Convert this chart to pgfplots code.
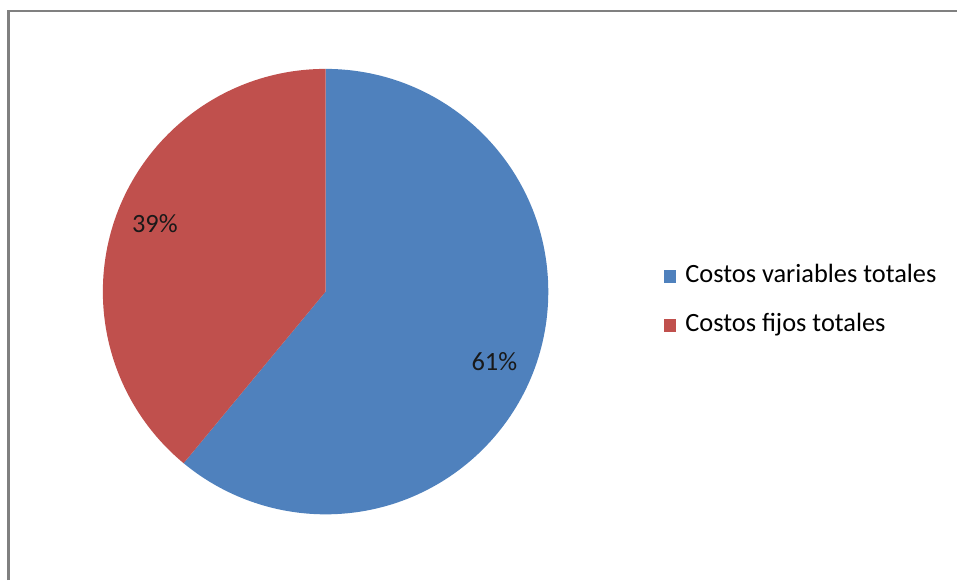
\documentclass[border=0pt]{standalone}
\usepackage{pgfplots}
\usepackage{pgfplotstable}
\pgfplotsset{compat=1.18}
\usepackage{fontspec}
\setmainfont{Carlito}
\definecolor{pieblue}{HTML}{4F81BD}
\definecolor{piered}{HTML}{C0504D}
\definecolor{framegray}{HTML}{808080}
\pgfplotstableread{
label value
Variables 61
Fijos 39
}\piedata
\pgfplotstablegetelem{0}{value}\of\piedata
\let\va\pgfplotsretval
\pgfplotstablegetelem{1}{value}\of\piedata
\let\vb\pgfplotsretval
\pgfmathsetmacro{\angA}{90-3.6*\va}
\pgfmathsetmacro{\angB}{90+3.6*\vb}
\begin{document}
\begin{tikzpicture}
\begin{axis}[
  scale only axis, width=958bp, height=581bp,
  xmin=0, xmax=958, ymin=0, ymax=581,
  hide axis, clip=false,
]
\path[fill=white] (axis cs:0,0) rectangle (axis cs:958,581);
% frame (only top and left visible)
\draw[framegray, line width=2.5bp] (axis cs:8.3,0) -- (axis cs:8.3,570) -- (axis cs:958,570);
% pie
\fill[pieblue] (axis cs:326,289) -- (axis cs:326,512) arc[start angle=90, end angle=\angA, radius=223] -- cycle;
\fill[piered] (axis cs:326,289) -- (axis cs:326,512) arc[start angle=90, end angle=\angB, radius=223] -- cycle;
% data labels
\node[anchor=base west, inner sep=0pt, font=\fontsize{26.5}{31}\selectfont, text=black!90] at (axis cs:132,348) {\vb\%};
\node[anchor=base west, inner sep=0pt, font=\fontsize{26.5}{31}\selectfont, text=black!90] at (axis cs:472,210) {\va\%};
% legend
\fill[pieblue] (axis cs:665,298) rectangle (axis cs:677,311);
\fill[piered] (axis cs:665,249) rectangle (axis cs:677,262);
\node[anchor=base west, inner sep=0pt, font=\fontsize{26.5}{31}\selectfont] at (axis cs:686,298) {Costos variables totales};
\node[anchor=base west, inner sep=0pt, font=\fontsize{26.5}{31}\selectfont] at (axis cs:686,249) {Costos fijos totales};
\end{axis}
\end{tikzpicture}
\end{document}
